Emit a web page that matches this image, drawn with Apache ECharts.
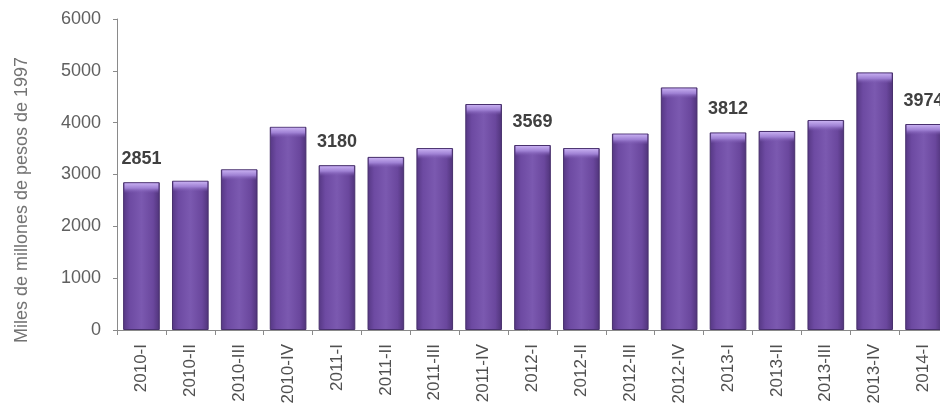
<!DOCTYPE html>
<html>
<head>
<meta charset="utf-8">
<script src="https://cdn.jsdelivr.net/npm/echarts@6/dist/echarts.min.js"></script>
<style>
  html, body { margin: 0; padding: 0; background: #ffffff; }
  #chart { width: 940px; height: 414px; }
</style>
</head>
<body>
<div id="chart"></div>
<script>
// Quarterly values, thousands of millions of 1997 pesos
var quarters = ['2010-I', '2010-II', '2010-III', '2010-IV',
                '2011-I', '2011-II', '2011-III', '2011-IV',
                '2012-I', '2012-II', '2012-III', '2012-IV',
                '2013-I', '2013-II', '2013-III', '2013-IV',
                '2014-I'];
var values = [2851, 2880, 3100, 3920,
              3180, 3340, 3510, 4360,
              3569, 3510, 3790, 4680,
              3812, 3840, 4050, 4970,
              3974];
var yTicks = [0, 1000, 2000, 3000, 4000, 5000, 6000];
var yAxisTitle = 'Miles de millones de pesos de 1997';

var chart = echarts.init(document.getElementById('chart'), null, { renderer: 'canvas' });

// Body shading: darker edges, lighter centre
var bodyFill = new echarts.graphic.LinearGradient(0, 0, 1, 0, [
  { offset: 0, color: '#553783' },
  { offset: 0.18, color: '#6d4aa2' },
  { offset: 0.5, color: '#7b59b0' },
  { offset: 0.82, color: '#6a479d' },
  { offset: 1, color: '#4f3379' }
]);
// Bevelled highlight along the top of each bar
var capFill = new echarts.graphic.LinearGradient(0, 0, 0, 1, [
  { offset: 0, color: '#c6aef0' },
  { offset: 0.5, color: '#9e80d3' },
  { offset: 1, color: 'rgba(123,89,176,0)' }
]);

chart.setOption({
  animation: false,
  grid: { left: 117, top: 19, width: 831, height: 311, outerBoundsMode: 'none' },
  xAxis: {
    type: 'category',
    data: quarters,
    axisLine: { lineStyle: { color: '#8a8a8a', width: 1 } },
    axisTick: { show: true, alignWithLabel: false, length: 5, lineStyle: { color: '#8a8a8a' } },
    axisLabel: {
      interval: 0,
      rotate: 90,
      margin: 14,
      color: '#505050',
      fontSize: 17,
      fontFamily: 'Liberation Sans'
    }
  },
  yAxis: {
    type: 'value',
    min: yTicks[0],
    max: yTicks[yTicks.length - 1],
    interval: 1000,
    splitLine: { show: false },
    axisLine: { show: true, lineStyle: { color: '#8a8a8a', width: 1 } },
    axisTick: { show: true, length: 4, lineStyle: { color: '#8a8a8a' } },
    axisLabel: {
      margin: 16,
      color: '#606060',
      fontSize: 18,
      fontFamily: 'Liberation Sans',
      formatter: function (v) { return String(v); }
    }
  },
  graphic: [{
    type: 'text',
    x: 22,
    y: 200,
    rotation: Math.PI / 2,
    style: {
      text: yAxisTitle,
      fill: '#737373',
      fontSize: 18,
      fontFamily: 'Liberation Sans',
      align: 'center',
      verticalAlign: 'middle'
    }
  }],
  series: [{
    type: 'bar',
    data: values,
    barWidth: '75%',
    itemStyle: {
      color: bodyFill,
      borderColor: '#48306d',
      borderWidth: 1
    },
    label: {
      show: true,
      position: 'top',
      distance: 14,
      color: '#404040',
      fontSize: 18,
      fontWeight: 'bold',
      fontFamily: 'Liberation Sans',
      formatter: function (p) {
        // only the first quarter of each year carries its value
        return /-I$/.test(quarters[p.dataIndex]) ? String(p.value) : '';
      }
    },
    z: 2
  }, {
    type: 'pictorialBar',
    data: values,
    symbol: 'rect',
    symbolSize: [34, 10],
    symbolPosition: 'end',
    symbolOffset: [0, 1],
    itemStyle: { color: capFill },
    silent: true,
    z: 3
  }]
});
</script>
</body>
</html>
